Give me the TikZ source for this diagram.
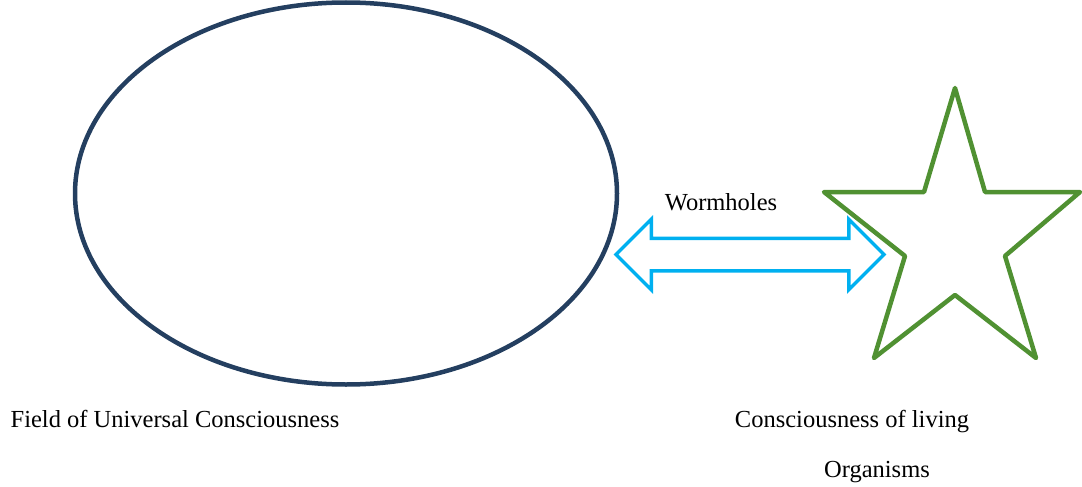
\documentclass[tikz,border=0pt]{standalone}
\usepackage{fontspec}
\setmainfont{Liberation Serif}
\usetikzlibrary{shapes.geometric, shapes.arrows}

\definecolor{fieldblue}{RGB}{36,63,96}
\definecolor{stargreen}{RGB}{80,145,50}
\definecolor{wormcyan}{RGB}{0,176,240}

\begin{document}
\begin{tikzpicture}[x=1pt, y=-1pt, every node/.style={font=\fontsize{24.5}{29}\selectfont},
  txt/.style={anchor=base, inner sep=0}]

\useasboundingbox (0,0) rectangle (1082,487);

\node (field) [ellipse, draw=fieldblue, line width=4.5pt, minimum width=542pt, minimum height=382pt, inner sep=0] at (346,193.5) {};
\node (worm) [double arrow, draw=wormcyan, line width=3.5pt, minimum height=268pt, inner xsep=0, inner ysep=14.5pt, double arrow head extend=19pt] at (750,254.5) {};

% star of the living organisms
\draw [stargreen, line width=4.5pt, line join=round] (955,88) -- (985,192) -- (1080,192) -- (1005,256) -- (1036,358) -- (955,295) -- (874,358) -- (905,256) -- (824,192) -- (924,192) -- cycle;

\node (wormtext) [txt] at (721,210) {Wormholes};
\node (fieldtext) [txt] at (175,427) {Field of Universal Consciousness};
\node (livetext) [txt] at (852,427) {Consciousness of living};
\node (orgtext) [txt] at (877,477) {Organisms};

\end{tikzpicture}
\end{document}
